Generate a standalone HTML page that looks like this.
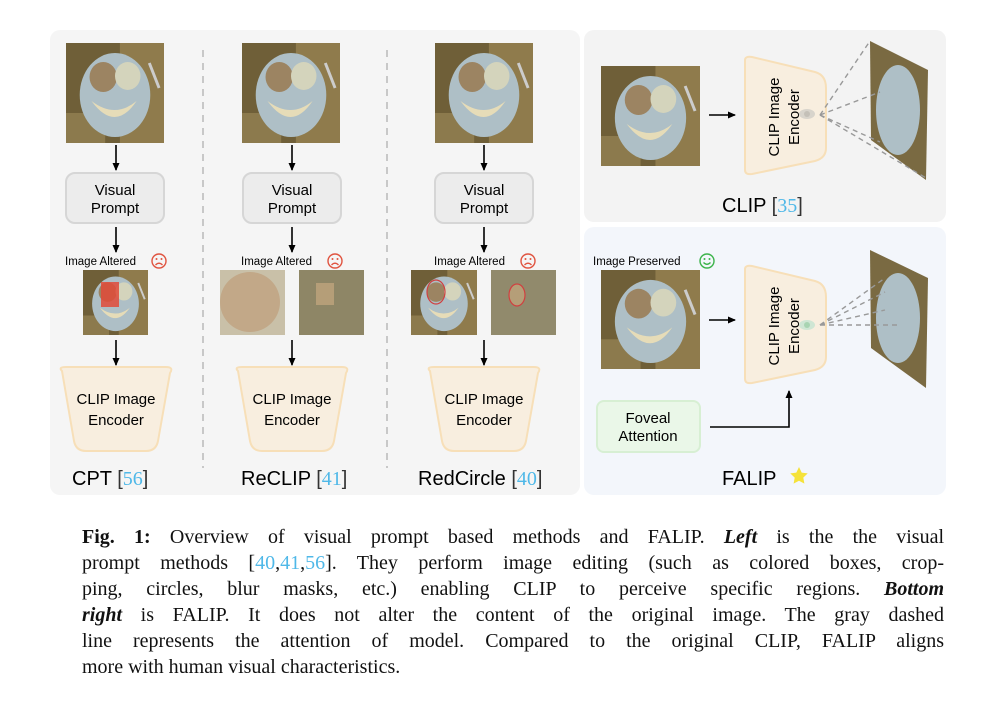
<!DOCTYPE html>
<html><head><meta charset="utf-8"><style>
body{margin:0;background:#fff;width:998px;height:726px;overflow:hidden;position:relative;font-family:"Liberation Sans",sans-serif}
svg{position:absolute;left:0;top:0}
.cap{position:absolute;left:82px;width:862px;font-family:"Liberation Serif",serif;font-size:20px;line-height:26px;top:524px;color:#111}
.cap div{text-align:justify;text-align-last:justify;white-space:nowrap}
.cap div.last{text-align-last:left}
.c{color:#4fb8e8}
</style></head><body>
<svg width="998" height="726" viewBox="0 0 998 726" font-family="Liberation Sans, sans-serif">
<defs>
<g id="photo">
<rect width="100" height="100" fill="#6f5f38"/>
<rect x="55" y="0" width="45" height="100" fill="#9c8856" opacity=".7"/>
<rect x="0" y="70" width="40" height="30" fill="#a08c5c" opacity=".6"/>
<ellipse cx="50" cy="52" rx="36" ry="42" fill="#aebfc6"/>
<ellipse cx="38" cy="34" rx="14" ry="15" fill="#9c8462"/>
<ellipse cx="63" cy="33" rx="13" ry="14" fill="#d4d4bc"/>
<path d="M26 58 Q50 90 72 58 Q50 76 26 58Z" fill="#e6dcb8"/>
<line x1="85" y1="20" x2="95" y2="45" stroke="#ccc" stroke-width="3"/>
</g>
<marker id="ah" markerWidth="8" markerHeight="8" refX="7" refY="4" orient="auto" markerUnits="userSpaceOnUse"><path d="M0,0.5 L8,4 L0,7.5 Z" fill="#000"/></marker>
<g id="vp"><rect x="0" y="0" width="98" height="50" rx="9" fill="#ececec" stroke="#d6d6d6" stroke-width="2"/>
<text x="49" y="22" font-size="15" text-anchor="middle">Visual</text><text x="49" y="40" font-size="15" text-anchor="middle">Prompt</text></g>
<g id="enc"><path d="M-54 2 Q-58 -2 -50 -2 L50 -2 Q58 -2 54 4 L42 72 Q40 82 30 82 L-30 82 Q-40 82 -42 72 Z" fill="#f8eedf" stroke="#f7dfb8" stroke-width="2"/>
<text x="0" y="35" font-size="15" text-anchor="middle">CLIP Image</text><text x="0" y="56" font-size="15" text-anchor="middle">Encoder</text></g>
<g id="sad"><circle r="7" fill="none" stroke="#e0533f" stroke-width="1.4"/><circle cx="-2.5" cy="-2" r="1" fill="#e0533f"/><circle cx="2.5" cy="-2" r="1" fill="#e0533f"/><path d="M-3.5 4 Q0 0.5 3.5 4" fill="none" stroke="#e0533f" stroke-width="1.3"/></g>
</defs>
<rect x="50" y="30" width="530" height="465" rx="10" fill="#f5f5f5"/>
<rect x="584" y="30" width="362" height="192" rx="10" fill="#f3f3f3"/>
<rect x="584" y="227" width="362" height="268" rx="10" fill="#f3f6fb"/>
<line x1="203" y1="50" x2="203" y2="468" stroke="#c8c8c8" stroke-width="2" stroke-dasharray="7,6"/>
<line x1="387" y1="50" x2="387" y2="468" stroke="#c8c8c8" stroke-width="2" stroke-dasharray="7,6"/>
<use href="#photo" transform="translate(66,43) scale(0.98,1)"/>
<use href="#photo" transform="translate(242,43) scale(0.98,1)"/>
<use href="#photo" transform="translate(435,43) scale(0.98,1)"/>
<g stroke="#000" stroke-width="1.6" marker-end="url(#ah)">
<line x1="116" y1="145" x2="116" y2="170"/><line x1="292" y1="145" x2="292" y2="170"/><line x1="484" y1="145" x2="484" y2="170"/>
<line x1="116" y1="227" x2="116" y2="252"/><line x1="292" y1="227" x2="292" y2="252"/><line x1="484" y1="227" x2="484" y2="252"/>
<line x1="116" y1="340" x2="116" y2="365"/><line x1="292" y1="340" x2="292" y2="365"/><line x1="484" y1="340" x2="484" y2="365"/>
<line x1="709" y1="115" x2="735" y2="115"/><line x1="709" y1="320" x2="735" y2="320"/>
</g>
<use href="#vp" transform="translate(66,173)"/><use href="#vp" transform="translate(243,173)"/><use href="#vp" transform="translate(435,173)"/>
<g font-size="11.5"><text x="65" y="265">Image Altered</text><text x="241" y="265">Image Altered</text><text x="434" y="265">Image Altered</text></g>
<use href="#sad" transform="translate(159,261)"/><use href="#sad" transform="translate(335,261)"/><use href="#sad" transform="translate(528,261)"/>
<use href="#photo" transform="translate(83,270) scale(0.65)"/>
<rect x="101" y="282" width="18" height="25" fill="#e04a3a" opacity=".85"/>
<rect x="220" y="270" width="65" height="65" fill="#c9c0a8"/><ellipse cx="250" cy="302" rx="30" ry="30" fill="#c2a888"/>
<rect x="299" y="270" width="65" height="65" fill="#8e8666"/><rect x="316" y="283" width="18" height="22" fill="#b59e78"/>
<use href="#photo" transform="translate(411,270) scale(0.66,0.65)"/><ellipse cx="436" cy="292" rx="9" ry="12" fill="none" stroke="#d04040" stroke-width="1.2"/>
<rect x="491" y="270" width="65" height="65" fill="#918a6c"/><ellipse cx="517" cy="295" rx="8" ry="11" fill="#b59e78" stroke="#d04040" stroke-width="1.2"/>
<use href="#enc" transform="translate(116,369)"/><use href="#enc" transform="translate(292,369)"/><use href="#enc" transform="translate(484,369)"/>
<g font-size="20"><text x="72" y="485">CPT <tspan fill="#333">[</tspan><tspan fill="#4fb8e8" font-family="Liberation Serif">56</tspan><tspan fill="#333">]</tspan></text>
<text x="241" y="485">ReCLIP <tspan fill="#333">[</tspan><tspan fill="#4fb8e8" font-family="Liberation Serif">41</tspan><tspan fill="#333">]</tspan></text>
<text x="418" y="485">RedCircle <tspan fill="#333">[</tspan><tspan fill="#4fb8e8" font-family="Liberation Serif">40</tspan><tspan fill="#333">]</tspan></text>
<text x="722" y="212">CLIP <tspan fill="#333">[</tspan><tspan fill="#4fb8e8" font-family="Liberation Serif">35</tspan><tspan fill="#333">]</tspan></text>
<text x="722" y="485">FALIP</text></g>
<path d="M799 467 l2.7 5.6 6 .8 -4.4 4.2 1.1 6 -5.4 -2.9 -5.4 2.9 1.1 -6 -4.4 -4.2 6 -.8z" fill="#f5e23a"/>
<use href="#photo" transform="translate(601,66) scale(0.99,1)"/>
<path d="M745 60 Q745 56 752 57 L815 72 Q826 75 826 88 L826 148 Q826 158 815 161 L752 174 Q745 175 745 170 Z" fill="#f8eedf" stroke="#f7dfb8" stroke-width="2"/>
<g font-size="15" text-anchor="middle"><text transform="translate(779,117) rotate(-90)">CLIP Image</text><text transform="translate(799,117) rotate(-90)">Encoder</text></g>
<ellipse cx="807" cy="114" rx="8" ry="5" fill="#d8d4cc"/><circle cx="807" cy="114" r="3" fill="#c4c0b8"/>
<polygon points="870,41 928,70 926,180 871,140" fill="#7a6a42"/><ellipse cx="898" cy="110" rx="22" ry="45" fill="#aebfc6"/>
<g stroke="#999" stroke-width="1.4" stroke-dasharray="5,4" fill="none">
<line x1="820" y1="115" x2="870" y2="41"/><line x1="820" y1="115" x2="880" y2="92"/><line x1="820" y1="115" x2="926" y2="178"/><line x1="820" y1="115" x2="880" y2="142"/></g>
<text x="593" y="265" font-size="11.5">Image Preserved</text>
<g transform="translate(707,261)"><circle r="7" fill="none" stroke="#3bb34a" stroke-width="1.4"/><circle cx="-2.5" cy="-2" r="1" fill="#3bb34a"/><circle cx="2.5" cy="-2" r="1" fill="#3bb34a"/><path d="M-3.5 1.5 Q0 5 3.5 1.5" fill="none" stroke="#3bb34a" stroke-width="1.3"/></g>
<use href="#photo" transform="translate(601,270) scale(0.99,0.99)"/>
<path d="M745 269 Q745 265 752 266 L815 281 Q826 284 826 297 L826 357 Q826 367 815 370 L752 383 Q745 384 745 379 Z" fill="#f8eedf" stroke="#f7dfb8" stroke-width="2"/>
<g font-size="15" text-anchor="middle"><text transform="translate(779,326) rotate(-90)">CLIP Image</text><text transform="translate(799,326) rotate(-90)">Encoder</text></g>
<ellipse cx="807" cy="325" rx="8" ry="5" fill="#cfe6d4"/><circle cx="807" cy="325" r="3" fill="#a8d4b2"/>
<polygon points="870,250 928,278 926,388 871,348" fill="#7a6a42"/><ellipse cx="898" cy="318" rx="22" ry="45" fill="#aebfc6"/>
<g stroke="#999" stroke-width="1.4" stroke-dasharray="5,4" fill="none">
<line x1="820" y1="325" x2="885" y2="278"/><line x1="820" y1="325" x2="885" y2="292"/><line x1="820" y1="325" x2="885" y2="310"/><line x1="820" y1="325" x2="900" y2="325"/></g>
<rect x="597" y="401" width="103" height="51" rx="7" fill="#eaf7e8" stroke="#d7efd3" stroke-width="2"/>
<text x="648" y="423" font-size="15" text-anchor="middle">Foveal</text><text x="648" y="441" font-size="15" text-anchor="middle">Attention</text>
<path d="M710 427 L789 427 L789 391" fill="none" stroke="#000" stroke-width="1.6" marker-end="url(#ah)"/>
</svg>
<div class="cap">
<div><b>Fig. 1:</b> Overview of visual prompt based methods and FALIP. <b><i>Left</i></b> is the the visual</div>
<div>prompt methods [<span class="c">40</span>,<span class="c">41</span>,<span class="c">56</span>]. They perform image editing (such as colored boxes, crop-</div>
<div>ping, circles, blur masks, etc.) enabling CLIP to perceive specific regions. <b><i>Bottom</i></b></div>
<div><b><i>right</i></b> is FALIP. It does not alter the content of the original image. The gray dashed</div>
<div>line represents the attention of model. Compared to the original CLIP, FALIP aligns</div>
<div class="last">more with human visual characteristics.</div>
</div>
</body></html>
